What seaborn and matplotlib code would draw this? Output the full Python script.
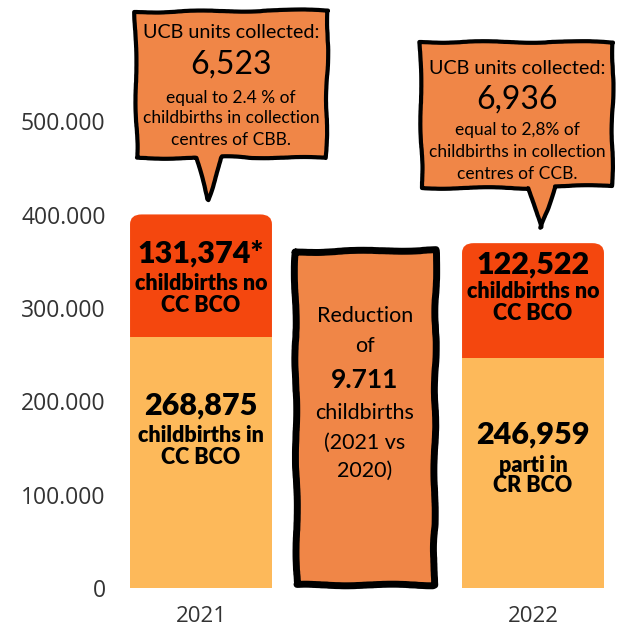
import pandas as pd
import matplotlib.pyplot as plt
import seaborn as sns
from matplotlib.patches import Polygon, FancyBboxPatch

# data
years = ["2021", "2022"]
in_cc_bco = [268875, 246959]
no_cc_bco = [131374, 122522]
slot_order = ["2021", " ", "2022"]
y_ticks = [0, 100000, 200000, 300000, 400000, 500000]
y_tick_labels = ["0", "100.000", "200.000", "300.000", "400.000", "500.000"]

ucb_units = ["6,523", "6,936"]
ucb_notes = [["equal to 2.4 % of", "childbirths in collection", "centres of CBB."],
             ["equal to 2,8% of", "childbirths in collection", "centres of CCB."]]
top_labels = [["131,374*", "childbirths no", "CC BCO"], ["122,522", "childbirths no", "CC BCO"]]
bottom_labels = [["268,875", "childbirths in", "CC BCO"], ["246,959", "parti in", "CR BCO"]]
reduction_lines = ["Reduction", "of", "9.711", "childbirths", "(2021 vs", "2020)"]

c_low = "#FDB95A"
c_high = "#F4470E"
c_box = "#F08647"

sns.set_style("white")
plt.rcParams['font.family'] = ['Lato', 'DejaVu Sans']
plt.rcParams['text.color'] = 'black'

W, H = 619, 631
fig = plt.figure(figsize=(W / 100, H / 100), dpi=100)
ax = fig.add_axes([118 / W, 43 / H, 498 / W, 588 / H])

df = pd.DataFrame({"year": years, "low": in_cc_bco, "high": no_cc_bco})
df["total"] = df["low"] + df["high"]

sns.barplot(data=df, x="year", y="total", order=slot_order, color=c_high,
            width=0.855, saturation=1, ax=ax)
# swap red bars for ones with rounded tops
for p in list(ax.patches):
    x, y, w, h = p.get_x(), p.get_y(), p.get_width(), p.get_height()
    p.remove()
    ax.add_patch(FancyBboxPatch((x, y), w, h, boxstyle="round,pad=0,rounding_size=0.07",
                                mutation_aspect=150000, fc=c_high, ec="none", zorder=2))
sns.barplot(data=df, x="year", y="low", order=slot_order, color=c_low,
            width=0.855, saturation=1, ax=ax)
for p in ax.patches:
    p.set_zorder(2)
    p.set_edgecolor("none")
ax.patches[-1].set_zorder(3)
ax.patches[-2].set_zorder(3)

ax.set_xlim(-0.5, 2.5)
ax.set_ylim(0, 630000)
ax.set_yticks(y_ticks)
ax.set_yticklabels(y_tick_labels, family="Open Sans", fontsize=16.5, color="#333333")
ax.set_xticks([0, 2])
ax.set_xticklabels(years, family="Open Sans", fontsize=16, color="#333333")
ax.tick_params(axis="y", length=0, pad=9)
ax.tick_params(axis="x", length=0, pad=13)
ax.set_xlabel("")
ax.set_ylabel("")
sns.despine(left=True, bottom=True)


def px(x, y):
    return x / W, 1 - y / H


def sketchy(patch):
    patch.set_sketch_params(scale=0.8, length=120, randomness=4)
    fig.add_artist(patch)


# speech bubbles
bubbles = [
    [(135, 12), (328, 10), (326, 158), (222, 157), (208, 200), (196, 158), (137, 158)],
    [(420, 42), (613, 42), (612, 186), (555, 186), (541, 228), (529, 188), (422, 188)],
]
bubble_cx = [231, 517]
bubble_y = [[32, 65, 98, 118, 140], [68, 100, 130, 152, 174]]
for i in range(2):
    sketchy(Polygon([px(*pt) for pt in bubbles[i]], closed=True, fc=c_box, ec="black",
                    lw=3, transform=fig.transFigure, joinstyle="round"))
    ys = bubble_y[i]
    fig.text(*px(bubble_cx[i], ys[0]), "UCB units collected:", ha="center", va="center", fontsize=14.2)
    fig.text(*px(bubble_cx[i], ys[1]), ucb_units[i], ha="center", va="center", fontsize=23)
    for line, yy in zip(ucb_notes[i], ys[2:]):
        fig.text(*px(bubble_cx[i], yy), line, ha="center", va="center", fontsize=12.5)

# reduction box
box = [(295, 252), (436, 250), (434, 585), (297, 585)]
sketchy(Polygon([px(*pt) for pt in box], closed=True, fc=c_box, ec="black", lw=5,
                transform=fig.transFigure, joinstyle="round"))
red_y = [316, 346, 380, 413, 443, 471]
for line, yy in zip(reduction_lines, red_y):
    bold = line == "9.711"
    fig.text(*px(365, yy), line, ha="center", va="center",
             fontsize=19 if bold else 15.5, fontweight="bold" if bold else "normal")

# bar labels
bar_cx = [201, 533]
top_y = [[254, 284, 305], [265, 292, 313]]
bot_y = [[406, 436, 457], [435, 465, 486]]
for i in range(2):
    for labels, ys in ((top_labels[i], top_y[i]), (bottom_labels[i], bot_y[i])):
        fig.text(*px(bar_cx[i], ys[0]), labels[0], ha="center", va="center",
                 fontsize=22, fontweight="heavy")
        for line, yy in zip(labels[1:], ys[1:]):
            fig.text(*px(bar_cx[i], yy), line, ha="center", va="center",
                     fontsize=15.5, fontweight="heavy")

plt.savefig("out.png", dpi=100)
